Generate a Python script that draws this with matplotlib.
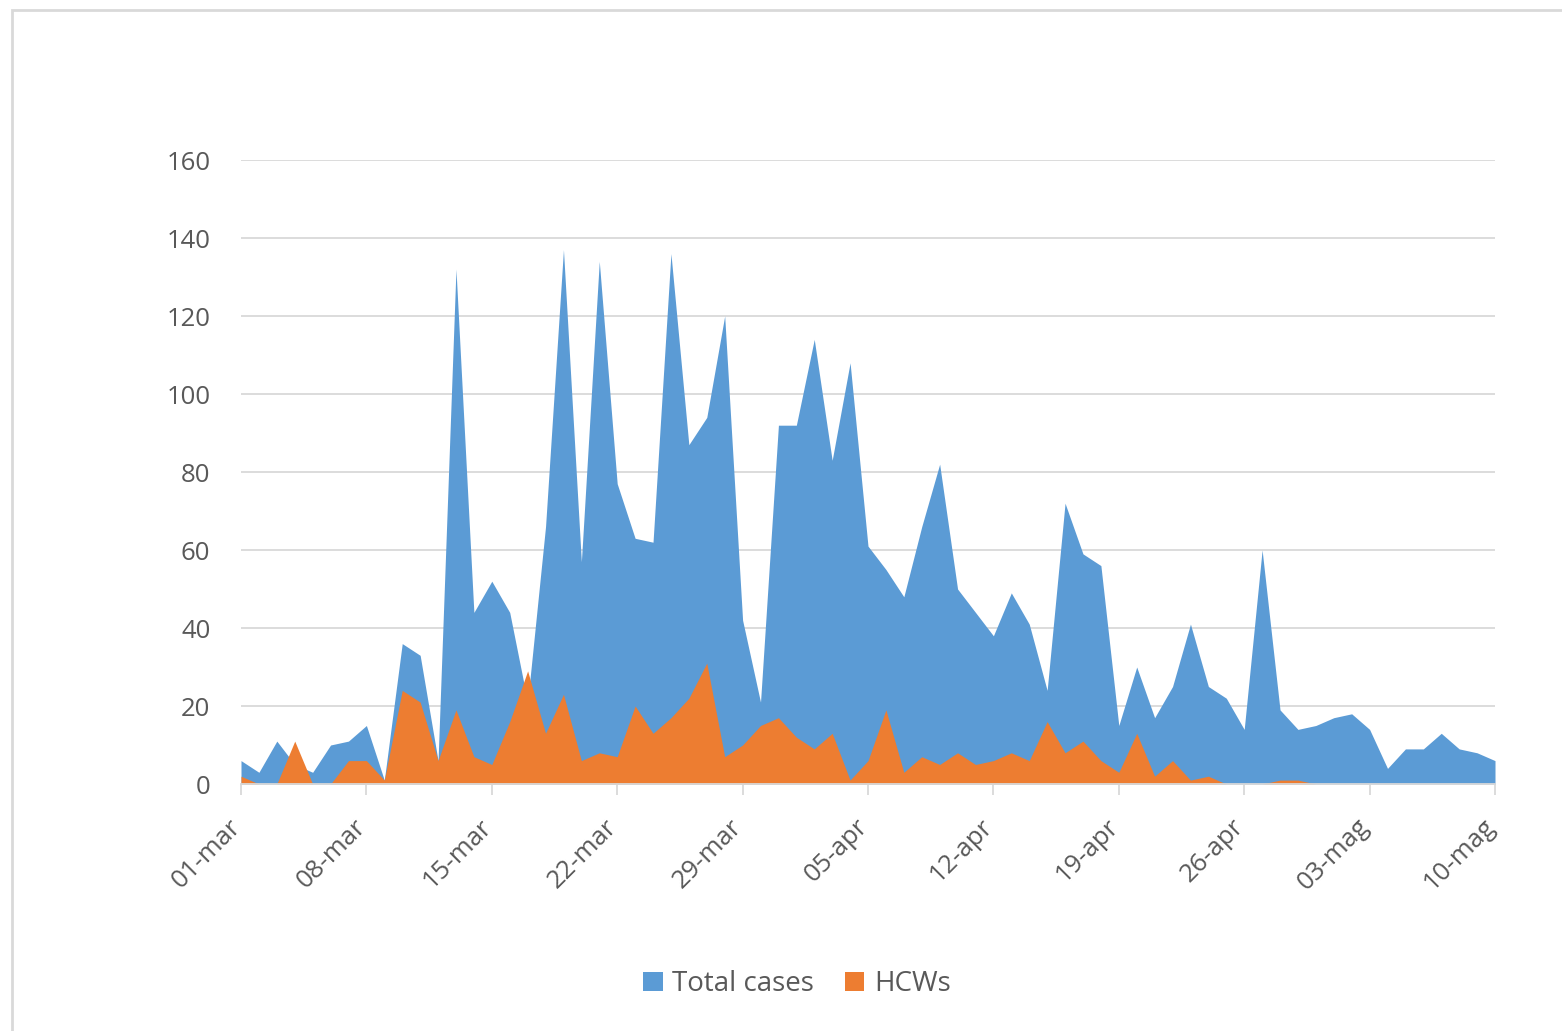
import numpy as np
import matplotlib
matplotlib.use("Agg")
import matplotlib.pyplot as plt
import matplotlib.transforms as mtransforms
from matplotlib.patches import Rectangle


# daily counts, 01-mar .. 10-mag
total_cases = [6, 3, 11, 5, 3, 10, 11, 15, 1, 36,
               33, 6, 132, 44, 52, 44, 21, 66, 137, 57,
               134, 77, 63, 62, 136, 87, 94, 120, 42, 21,
               92, 92, 114, 83, 108, 61, 55, 48, 66, 82,
               50, 44, 38, 49, 41, 24, 72, 59, 56, 15,
               30, 17, 25, 41, 25, 22, 14, 60, 19, 14,
               15, 17, 18, 14, 4, 9, 9, 13, 9, 8,
               6]
hcws = [2, 0, 0, 11, 0, 0, 6, 6, 1, 24,
        21, 6, 19, 7, 5, 16, 29, 13, 23, 6,
        8, 7, 20, 13, 17, 22, 31, 7, 10, 15,
        17, 12, 9, 13, 1, 6, 19, 3, 7, 5,
        8, 5, 6, 8, 6, 16, 8, 11, 6, 3,
        13, 2, 6, 1, 2, 0, 0, 0, 1, 1,
        0, 0, 0, 0, 0, 0, 0, 0, 0, 0,
        0]
tick_labels = ['01-mar', '08-mar', '15-mar', '22-mar', '29-mar', '05-apr',
               '12-apr', '19-apr', '26-apr', '03-mag', '10-mag']
y_ticks = [0, 20, 40, 60, 80, 100, 120, 140, 160]

BLUE = '#5B9BD5'
ORANGE = '#ED7D31'
GRID = '#D9D9D9'
TEXT = '#595959'


def main():
  plt.rcParams['font.family'] = ['Open Sans', 'DejaVu Sans']

  W, H = 1562, 1031
  fig = plt.figure(figsize=(W / 100, H / 100), dpi=100)
  ax = fig.add_axes([241 / W, 1 - 784 / H, (1495 - 241) / W, (784 - 160) / H])

  x = np.arange(len(total_cases))
  ax.fill_between(x, total_cases, color=BLUE, linewidth=0, label='Total cases')
  ax.fill_between(x, hcws, color=ORANGE, linewidth=0, label='HCWs')

  ax.set_xlim(0, len(total_cases) - 1)
  ax.set_ylim(0, 160)

  ax.set_yticks(y_ticks)
  ax.set_yticklabels([str(v) for v in y_ticks])
  ax.tick_params(axis='y', length=0, pad=22, labelsize=18.5, labelcolor=TEXT)
  ax.yaxis.grid(True, color=GRID, linewidth=1.3)
  ax.set_axisbelow(True)

  ax.set_xticks(np.arange(0, len(total_cases), 7))
  ax.set_xticklabels(tick_labels, rotation=45, ha='right', va='center',
                     rotation_mode='anchor')
  ax.tick_params(axis='x', length=8, width=1.3, color=GRID, pad=20,
                 labelsize=18.5, labelcolor=TEXT)
  offset = mtransforms.ScaledTranslation(-0.04, 0, fig.dpi_scale_trans)
  for lab in ax.get_xticklabels():
    lab.set_transform(lab.get_transform() + offset)

  for side in ['top', 'right', 'left']:
    ax.spines[side].set_visible(False)
  ax.spines['bottom'].set_color(GRID)
  ax.spines['bottom'].set_linewidth(1.3)
  ax.spines['bottom'].set_zorder(3)

  leg = fig.legend(loc='center', bbox_to_anchor=(797 / W, 1 - 984 / H), ncol=2,
                   frameon=False, fontsize=20, handlelength=0.7,
                   handleheight=0.7, handletextpad=0.35, columnspacing=1.1)
  for t in leg.get_texts():
    t.set_color(TEXT)

  # light frame around the chart
  fig.patches.append(Rectangle((12 / W, -0.05), 1.2, 1 - 10 / H + 0.05,
                               transform=fig.transFigure, fill=False,
                               edgecolor=GRID, linewidth=2))

  fig.savefig('out.png', dpi=100)


if __name__ == "__main__":
  main()
